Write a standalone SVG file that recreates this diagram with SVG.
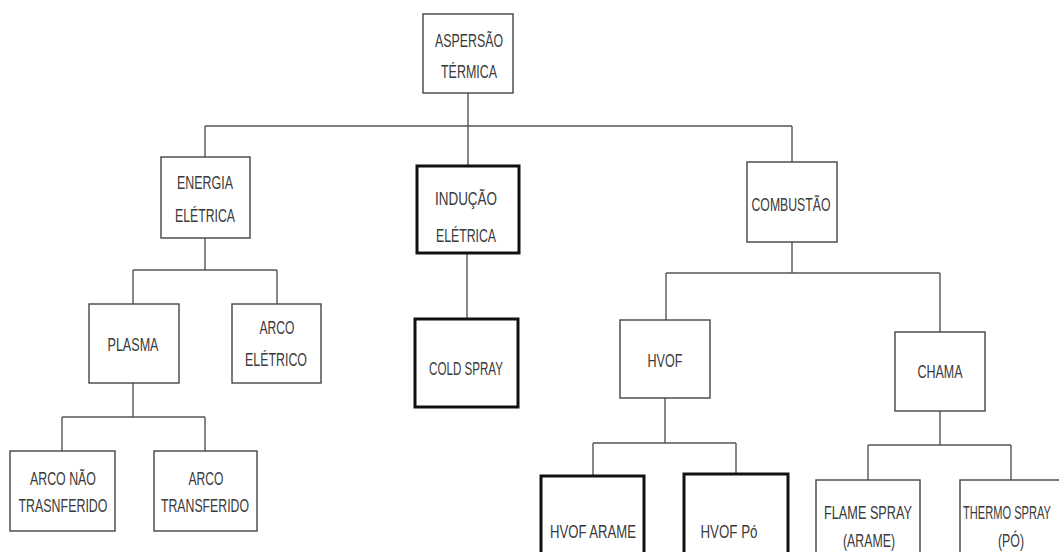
<svg xmlns="http://www.w3.org/2000/svg" width="1059" height="552" viewBox="0 0 1059 552">
<style>
.b{fill:#fff;stroke:#444;stroke-width:1.4}
.k{fill:#fff;stroke:#111;stroke-width:3}
.t{font-family:"Liberation Sans",Arial,sans-serif;font-size:18.5px;fill:#3a3a3a;text-anchor:middle}
.c{fill:none;stroke:#555;stroke-width:1.4}
</style>
<rect width="1059" height="552" fill="#fff"/>
<g id="connectors">
<path class="c" d="M468 93V126M205 126H792M205 126V157M468 126V166M792 126V162"/>
<path class="c" d="M205 238V270M133 270H277M133 270V304M277 270V304"/>
<path class="c" d="M467 253V319"/>
<path class="c" d="M133 383V417M62 417H205M62 417V451M205 417V451"/>
<path class="c" d="M792 242V273M666 273H940M666 273V320M940 273V332"/>
<path class="c" d="M665 398V443M593 443H736M593 443V476M736 443V474"/>
<path class="c" d="M940 411V445M868 445H1011M868 445V480M1011 445V480"/>
</g>
<g id="n-aspersao"><rect class="b" x="423" y="14" width="90" height="79"/><text class="t" x="469" y="47" textLength="68" lengthAdjust="spacingAndGlyphs">ASPERSÃO</text><text class="t" x="469" y="78" textLength="56" lengthAdjust="spacingAndGlyphs">TÉRMICA</text></g>
<g id="n-energia"><rect class="b" x="161" y="157" width="89" height="81"/><text class="t" x="205" y="189" textLength="56" lengthAdjust="spacingAndGlyphs">ENERGIA</text><text class="t" x="205" y="222" textLength="60" lengthAdjust="spacingAndGlyphs">ELÉTRICA</text></g>
<g id="n-inducao"><rect class="k" x="417" y="166" width="102" height="87"/><text class="t" x="466" y="205" textLength="62" lengthAdjust="spacingAndGlyphs">INDUÇÃO</text><text class="t" x="466" y="242" textLength="60" lengthAdjust="spacingAndGlyphs">ELÉTRICA</text></g>
<g id="n-combustao"><rect class="b" x="747" y="162" width="90" height="80"/><text class="t" x="791" y="211" textLength="79" lengthAdjust="spacingAndGlyphs">COMBUSTÃO</text></g>
<g id="n-plasma"><rect class="b" x="89" y="304" width="90" height="79"/><text class="t" x="133" y="351" textLength="51" lengthAdjust="spacingAndGlyphs">PLASMA</text></g>
<g id="n-arco-eletrico"><rect class="b" x="232" y="304" width="89" height="79"/><text class="t" x="277" y="334" textLength="35" lengthAdjust="spacingAndGlyphs">ARCO</text><text class="t" x="276" y="366" textLength="62" lengthAdjust="spacingAndGlyphs">ELÉTRICO</text></g>
<g id="n-cold-spray"><rect class="k" x="415" y="319" width="103" height="88"/><text class="t" x="466" y="375" textLength="74" lengthAdjust="spacingAndGlyphs">COLD SPRAY</text></g>
<g id="n-hvof"><rect class="b" x="620" y="320" width="90" height="78"/><text class="t" x="665" y="367" textLength="35" lengthAdjust="spacingAndGlyphs">HVOF</text></g>
<g id="n-chama"><rect class="b" x="895" y="332" width="90" height="79"/><text class="t" x="940" y="378" textLength="45" lengthAdjust="spacingAndGlyphs">CHAMA</text></g>
<g id="n-arco-nao"><rect class="b" x="10" y="451" width="105" height="80"/><text class="t" x="63" y="485" textLength="66" lengthAdjust="spacingAndGlyphs">ARCO NÃO</text><text class="t" x="63" y="512" textLength="89" lengthAdjust="spacingAndGlyphs">TRASNFERIDO</text></g>
<g id="n-arco-transferido"><rect class="b" x="154" y="451" width="103" height="80"/><text class="t" x="206" y="485" textLength="35" lengthAdjust="spacingAndGlyphs">ARCO</text><text class="t" x="205" y="512" textLength="88" lengthAdjust="spacingAndGlyphs">TRANSFERIDO</text></g>
<g id="n-hvof-arame"><rect class="k" x="541" y="476" width="103" height="82"/><text class="t" x="593" y="538" textLength="86" lengthAdjust="spacingAndGlyphs">HVOF ARAME</text></g>
<g id="n-hvof-po"><rect class="k" x="684" y="474" width="104" height="84"/><text class="t" x="729" y="538" textLength="57" lengthAdjust="spacingAndGlyphs">HVOF Pó</text></g>
<g id="n-flame-spray"><rect class="b" x="816" y="480" width="104" height="78"/><text class="t" x="868" y="519" textLength="88" lengthAdjust="spacingAndGlyphs">FLAME SPRAY</text><text class="t" x="869" y="547" textLength="52" lengthAdjust="spacingAndGlyphs">(ARAME)</text></g>
<g id="n-thermo-spray"><rect class="b" x="960" y="480" width="104" height="78"/><text class="t" transform="translate(1007 519) scale(0.6 1)" x="0" y="0">THERMO SPRAY</text><text class="t" x="1011" y="547" textLength="26" lengthAdjust="spacingAndGlyphs">(PÓ)</text></g>
</svg>
